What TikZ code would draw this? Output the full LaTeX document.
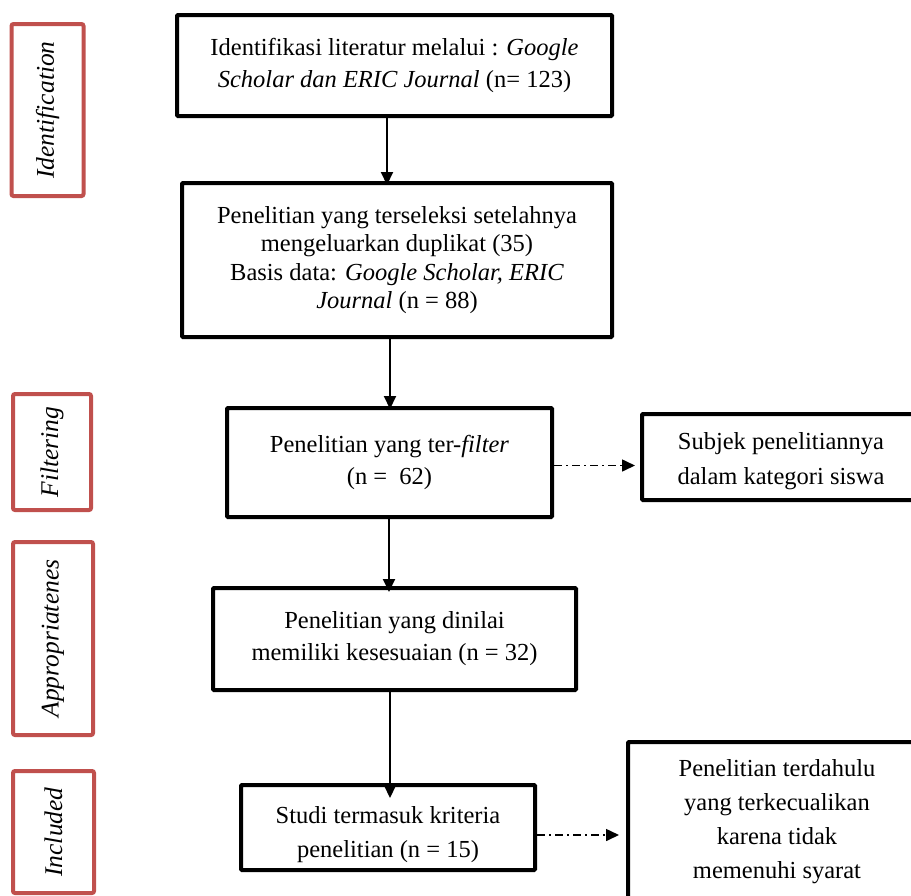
\documentclass[tikz,border=0pt]{standalone}
\usepackage{fontspec}
\setmainfont{Liberation Serif}
\usetikzlibrary{arrows.meta}
\definecolor{redacc}{HTML}{C0504D}
\begin{document}
\begin{tikzpicture}[x=1pt,y=-1pt,
  every node/.style={font=\fontsize{24.5}{32}\selectfont},
  mainbox/.style={draw=black, line width=4pt, rounded corners=1pt, align=center, inner sep=0pt},
  stagebox/.style={draw=redacc, line width=4pt, rounded corners=2pt, inner sep=0pt},
  stagetext/.style={rotate=90, font=\fontsize{25.5}{30}\selectfont\itshape},
  plain/.style={align=center, inner sep=0pt},
  arr/.style={line width=2pt, -{Triangle[width=12pt,length=13pt]}},
  darr/.style={line width=1.6pt, dash pattern=on 8pt off 4pt on 2pt off 4pt, -{Triangle[width=12pt,length=13pt]}}
]
\useasboundingbox (0,0) rectangle (911,895);
\clip (0,0) rectangle (911,895);

% stage boxes
\node[stagebox, minimum width=72, minimum height=172] (s1) at (47.5,110) {};
\node[stagetext] (s1t) at (s1) {Identification};
\node[stagebox, minimum width=78, minimum height=116] (s2) at (52,452) {};
\node[stagetext] (s2t) at (s2) {Filtering};
\node[stagebox, minimum width=80, minimum height=193] (s3) at (53,638.5) {};
\node[stagetext] (s3t) at (s3) {Appropriatenes};
\node[stagebox, minimum width=81, minimum height=122] (s4) at (53.5,832) {};
\node[stagetext] (s4t) at (s4) {Included};

% main boxes
\node[mainbox, minimum width=435, minimum height=101] (b1) at (394.5,65.5)
  {Identifikasi literatur melalui : \textit{Google}\\\textit{Scholar dan ERIC Journal} (n= 123)};
\node[mainbox, minimum width=430, minimum height=154, font=\fontsize{24.5}{28.5}\selectfont] (b2) at (397,260)
  {Penelitian yang terseleksi setelahnya\\mengeluarkan duplikat (35)\\Basis data: \textit{Google Scholar, ERIC}\\\textit{Journal} (n = 88)};
\node[mainbox, minimum width=325, minimum height=109] (b3) at (389.5,462.5)
  {Penelitian yang ter-\textit{filter}\\(n =~ 62)};
\node[mainbox, minimum width=290, minimum height=86] (b4) at (787,457) {};
\node[plain, font=\fontsize{24.5}{35}\selectfont] (t4) at (781,461) {Subjek penelitiannya\\dalam kategori siswa};
\node[mainbox, minimum width=363, minimum height=102] (b5) at (394.5,639)
  {Penelitian yang dinilai\\memiliki kesesuaian (n = 32)};
\node[mainbox, minimum width=294, minimum height=85] (b6) at (388,827.5) {};
\node[plain, font=\fontsize{24.5}{34}\selectfont] (t6) at (388,835) {Studi termasuk kriteria\\penelitian (n = 15)};
\node[mainbox, minimum width=300, minimum height=200] (b7) at (778,842) {};
\node[plain, font=\fontsize{24.5}{34}\selectfont] (t7) at (777,822) {Penelitian terdahulu\\yang terkecualikan\\karena tidak\\memenuhi syarat};

% connectors
\draw[arr] ([xshift=-7.5]b1.south) -- ([xshift=-7.5,yshift=-4]b1.south |- b2.north);
\draw[arr] ([xshift=-7]b2.south) -- ([xshift=-7,yshift=-3]b2.south |- b3.north);
\draw[arr] ([xshift=-0.5]b3.south) -- ([xshift=-0.5,yshift=-6]b3.south |- b5.north);
\draw[arr] ([xshift=-4.5]b5.south) -- ([xshift=-4.5,yshift=-15]b5.south |- b6.north);
\draw[darr] ([yshift=-3]b3.east) -- ([yshift=-3,xshift=-5]b3.east -| b4.west);
\draw[darr] ([yshift=-7.5]b6.east) -- ([yshift=-7.5,xshift=-7]b6.east -| b7.west);
\end{tikzpicture}
\end{document}
